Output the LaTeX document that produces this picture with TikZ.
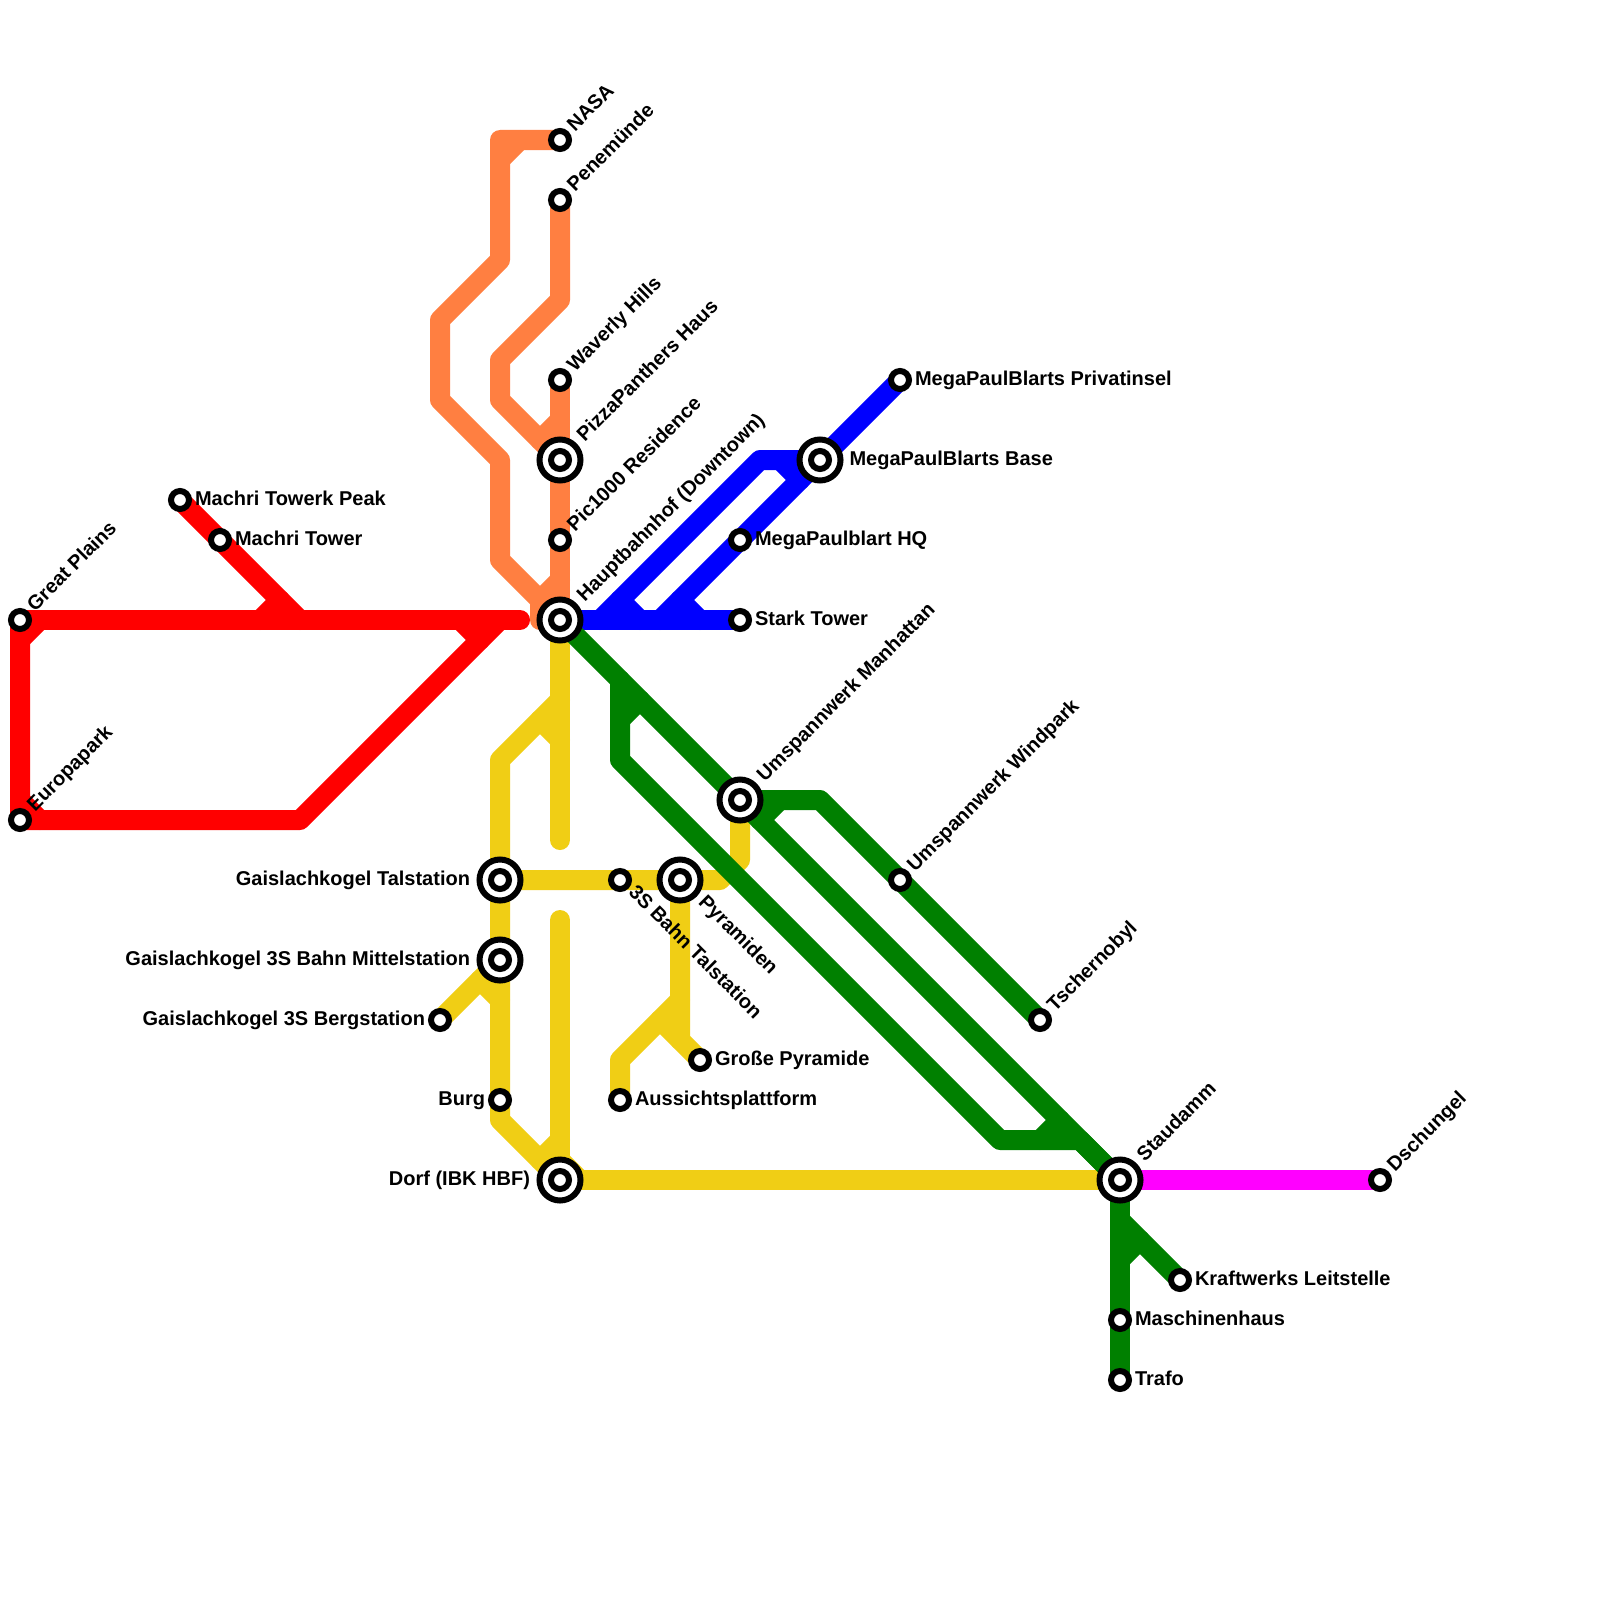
\documentclass[tikz,border=0pt]{standalone}
\usepackage{fontspec}
\setmainfont{Liberation Sans}
\definecolor{lnorange}{HTML}{FF7F41}
\definecolor{lnyellow}{HTML}{F0CE15}
\definecolor{lngreen}{HTML}{008000}
\definecolor{lnblue}{HTML}{0000FF}
\definecolor{lnred}{HTML}{FF0000}
\definecolor{lnmag}{HTML}{FF00FF}
\tikzset{
  metro/.style={line width=20pt,line cap=round,line join=round},
  stn/.style={circle,draw=black,fill=white,line width=6pt,inner sep=0pt,minimum size=18pt},
  hubring/.style={circle,draw=black,fill=white,line width=6pt,inner sep=0pt,minimum size=41pt},
  lbl/.style={inner sep=0pt,outer sep=0pt,font=\fontsize{20}{24}\selectfont\bfseries,text=black},
  lblE/.style={lbl,anchor=base west},
  lblW/.style={lbl,anchor=base east},
  lblNE/.style={lbl,anchor=base west,rotate=45},
  lblSE/.style={lbl,anchor=base west,rotate=-45},
}
\newcommand\hubnode[2]{\node[hubring] (#1) at (#2) {}; \node[stn] (#1core) at (#2) {};}
\newcommand\stlabel[4]{\node[#1] (#2lbl) at ([shift={(#3)}]#2.center) {#4};}
\begin{document}
\begin{tikzpicture}[x=1pt,y=-1pt]
\fill[white] (0,0) rectangle (1600,1600);
\useasboundingbox (0,0) rectangle (1600,1600);
% station positions
\foreach \n/\p in {
 cNasa/{560,140},cPene/{560,200},cWave/{560,380},cPizza/{560,460},cPic/{560,540},cHbf/{560,620},
 cPriv/{900,380},cBase/{820,460},cHq/{740,540},cStark/{740,620},
 cMan/{740,800},cWind/{900,880},cTsch/{1040,1020},cStau/{1120,1180},cDsch/{1380,1180},
 cKraft/{1180,1280},cMasch/{1120,1320},cTrafo/{1120,1380},
 cPeak/{180,500},cTower/{220,540},cGreat/{20,620},cEuro/{20,820},
 cTal/{500,880},cBahn/{620,880},cPyr/{680,880},cMit/{500,960},cBerg/{440,1020},cBurg/{500,1100},cDorf/{560,1180},
 cGross/{700,1060},cAus/{620,1100}}
 {\coordinate (\n) at (\p);}
% waypoints
\foreach \n/\p in {
 o1/{500,140},o2/{500,260},o3/{440,320},o4/{440,400},o5/{500,460},o6/{500,560},o7/{540,600},o8/{540,620},
 o9/{500,160},o10/{520,140},o11/{560,300},o12/{500,360},o13/{500,400},o14/{560,420},o15/{540,440},o16/{560,580},
 r1/{520,620},r2/{300,820},r3/{500,620},r4/{300,620},r5/{260,620},r6/{280,600},r7/{20,640},r8/{40,620},r9/{20,800},r10/{40,820},r11/{460,620},r12/{480,640},
 y1/{560,840},y2/{560,700},y3/{500,760},y4/{540,720},y5/{560,740},y6/{720,880},y7/{740,860},y8/{500,1120},y9/{560,920},y10/{560,1140},y11/{540,1160},y12/{560,1160},y13/{580,1180},
 y14/{480,980},y15/{500,1000},y16/{680,1040},y17/{680,1000},y18/{620,1060},y19/{660,1020},
 b1/{600,620},b2/{760,460},b3/{660,620},b4/{780,460},b5/{800,480},b6/{620,600},b7/{640,620},b8/{680,600},b9/{700,620},
 g1/{620,680},g2/{620,760},g3/{1000,1140},g4/{1080,1140},g5/{620,720},g6/{640,700},g7/{1040,1140},g8/{1060,1120},g9/{820,800},g10/{780,800},g11/{760,820},g12/{1120,1220},g13/{1120,1260},g14/{1140,1240}}
 {\coordinate (\n) at (\p);}
% red
\draw[metro,lnred] (cPeak) -- (r4);
\draw[metro,lnred] (cGreat) -- (r1);
\draw[metro,lnred] (cGreat) -- (cEuro) -- (r2) -- (r3);
\draw[metro,lnred] (r5) -- (r6);
\draw[metro,lnred] (r7) -- (r8);
\draw[metro,lnred] (r9) -- (r10);
\draw[metro,lnred] (r11) -- (r12);
% orange
\draw[metro,lnorange] (cNasa) -- (o1) -- (o2) -- (o3) -- (o4) -- (o5) -- (o6) -- (o7) -- (o8) -- (cHbf);
\draw[metro,lnorange] (o9) -- (o10);
\draw[metro,lnorange] (cPene) -- (o11) -- (o12) -- (o13) -- (cPizza);
\draw[metro,lnorange] (cWave) -- (cHbf);
\draw[metro,lnorange] (o14) -- (o15);
\draw[metro,lnorange] (o16) -- (o7);
% yellow
\draw[metro,lnyellow] (cHbf) -- (y1);
\draw[metro,lnyellow] (y2) -- (y3) -- (cTal);
\draw[metro,lnyellow] (y4) -- (y5);
\draw[metro,lnyellow] (cTal) -- (y6) -- (y7) -- (cMan);
\draw[metro,lnyellow] (cTal) -- (y8) -- (cDorf);
\draw[metro,lnyellow] (y9) -- (cDorf) -- (cStau);
\draw[metro,lnyellow] (y10) -- (y11);
\draw[metro,lnyellow] (y12) -- (y13);
\draw[metro,lnyellow] (cMit) -- (cBerg);
\draw[metro,lnyellow] (y14) -- (y15);
\draw[metro,lnyellow] (cPyr) -- (y16) -- (cGross);
\draw[metro,lnyellow] (y17) -- (y18) -- (cAus);
\draw[metro,lnyellow] (y19) -- (y16);
% blue
\draw[metro,lnblue] (cHbf) -- (cStark);
\draw[metro,lnblue] (b1) -- (b2) -- (cBase) -- (cPriv);
\draw[metro,lnblue] (b3) -- (cBase);
\draw[metro,lnblue] (b4) -- (b5);
\draw[metro,lnblue] (b6) -- (b7);
\draw[metro,lnblue] (b8) -- (b9);
% green
\draw[metro,lngreen] (cHbf) -- (cStau);
\draw[metro,lngreen] (g1) -- (g2) -- (g3) -- (g4) -- (cStau);
\draw[metro,lngreen] (g5) -- (g6);
\draw[metro,lngreen] (g7) -- (g8);
\draw[metro,lngreen] (cMan) -- (g9) -- (cTsch);
\draw[metro,lngreen] (g10) -- (g11);
\draw[metro,lngreen] (cStau) -- (cTrafo);
\draw[metro,lngreen] (g12) -- (cKraft);
\draw[metro,lngreen] (g13) -- (g14);
% magenta
\draw[metro,lnmag] (cStau) -- (cDsch);
% stations
\foreach \n/\c in {nasa/cNasa,pene/cPene,wave/cWave,pic/cPic,priv/cPriv,hq/cHq,stark/cStark,wind/cWind,tsch/cTsch,dsch/cDsch,kraft/cKraft,masch/cMasch,trafo/cTrafo,peak/cPeak,tower/cTower,great/cGreat,euro/cEuro,bahn/cBahn,berg/cBerg,burg/cBurg,gross/cGross,aus/cAus}
 {\node[stn] (\n) at (\c) {};}
\hubnode{pizza}{cPizza}
\hubnode{hbf}{cHbf}
\hubnode{base}{cBase}
\hubnode{man}{cMan}
\hubnode{stau}{cStau}
\hubnode{tal}{cTal}
\hubnode{pyr}{cPyr}
\hubnode{mit}{cMit}
\hubnode{dorf}{cDorf}
% labels
\stlabel{lblNE}{nasa}{15,-7.8}{NASA}
\stlabel{lblNE}{pene}{15,-7.8}{Penemünde}
\stlabel{lblNE}{wave}{15,-7.8}{Waverly Hills}
\stlabel{lblNE}{pizza}{24.8,-17.7}{PizzaPanthers Haus}
\stlabel{lblNE}{pic}{15,-7.8}{Pic1000 Residence}
\stlabel{lblNE}{hbf}{24.8,-17.7}{Hauptbahnhof (Downtown)}
\stlabel{lblE}{priv}{15,5.4}{MegaPaulBlarts Privatinsel}
\stlabel{lblE}{base}{29.5,5.4}{MegaPaulBlarts Base}
\stlabel{lblE}{hq}{15,5.4}{MegaPaulblart HQ}
\stlabel{lblE}{stark}{15,5.4}{Stark Tower}
\stlabel{lblNE}{man}{24.8,-17.7}{Umspannwerk Manhattan}
\stlabel{lblNE}{wind}{15,-7.8}{Umspannwerk Windpark}
\stlabel{lblNE}{tsch}{15,-7.8}{Tschernobyl}
\stlabel{lblNE}{stau}{24.8,-17.7}{Staudamm}
\stlabel{lblNE}{dsch}{15,-7.8}{Dschungel}
\stlabel{lblE}{kraft}{15,5.4}{Kraftwerks Leitstelle}
\stlabel{lblE}{masch}{15,5.4}{Maschinenhaus}
\stlabel{lblE}{trafo}{15,5.4}{Trafo}
\stlabel{lblE}{peak}{15,5.4}{Machri Towerk Peak}
\stlabel{lblE}{tower}{15,5.4}{Machri Tower}
\stlabel{lblNE}{great}{15,-7.8}{Great Plains}
\stlabel{lblNE}{euro}{15,-7.8}{Europapark}
\stlabel{lblW}{tal}{-30,5.4}{Gaislachkogel Talstation}
\stlabel{lblW}{mit}{-30,5.4}{Gaislachkogel 3S Bahn Mittelstation}
\stlabel{lblW}{berg}{-15,5.4}{Gaislachkogel 3S Bergstation}
\stlabel{lblW}{burg}{-15,5.4}{Burg}
\stlabel{lblW}{dorf}{-30,5.4}{Dorf (IBK HBF)}
\stlabel{lblSE}{bahn}{7.8,13.4}{3S Bahn Talstation}
\stlabel{lblSE}{pyr}{17.7,23.3}{Pyramiden}
\stlabel{lblE}{gross}{15,5.4}{Große Pyramide}
\stlabel{lblE}{aus}{15,5.4}{Aussichtsplattform}
\end{tikzpicture}
\end{document}
